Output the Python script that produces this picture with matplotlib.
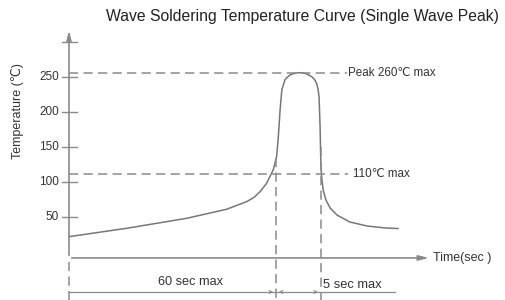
import matplotlib.pyplot as plt
import numpy as np

# reflow profile (time in sec, temperature in C)
time_s = [0, 16.7, 34.1, 45.7, 51.5, 53.6, 55.4, 57.3, 59.2, 60.2, 60.7, 61.2, 61.7,
          62.6, 63.2, 64.1, 65.2, 66.5, 67.4, 68.4, 69.4, 70.4, 71.2, 71.8, 72.2, 72.5,
          72.8, 73.0, 73.2, 73.7, 74.5, 75.7, 77.7, 81.4, 86.4, 91.6, 95.4]
temp_c = [22.5, 34.4, 48.6, 61.5, 72.3, 78.2, 86.5, 98.4, 117.4, 136.3, 164.7, 202.7, 231.1,
          245.4, 248.9, 252.5, 254.6, 255.8, 255.6, 254.9, 252.8, 250, 246.1, 240.7, 232.6, 221.6,
          179, 131.6, 110, 88.9, 74.7, 63.3, 53.3, 43.4, 37.7, 34.9, 34.1]

y_ticks = [50, 100, 150, 200, 250, 300]
y_labels = ['50', '100', '150', '200', '250', '']
peak_temp = 255.5
limit_temp = 111.7
preheat_end = 60
wave_end = 73

GRAY = '#8a8a8a'
TXT = '#333333'
plt.rcParams['font.family'] = ['Liberation Sans', 'DejaVu Sans']

fig = plt.figure(figsize=(5.06, 3.0), dpi=100)
ax = fig.add_axes([0, 0, 1, 1])
ax.set_xlim(-20, 126.7)
ax.set_ylim(-67.6, 359.2)
ax.axis('off')

x_axis_y = -7.8
dash = (0, (6, 3.5))

# axes with arrows
ax.annotate('', xy=(0, 320), xytext=(0, x_axis_y),
            arrowprops=dict(arrowstyle='-|>,head_width=0.15,head_length=0.6',
                            color=GRAY, lw=1.2, mutation_scale=10))
ax.annotate('', xy=(105.2, x_axis_y), xytext=(0, x_axis_y),
            arrowprops=dict(arrowstyle='-|>,head_width=0.15,head_length=0.6',
                            color=GRAY, lw=1.2, mutation_scale=10))
ax.text(105.6, x_axis_y, 'Time(sec )', fontsize=9, color=TXT, va='center', ha='left')

for v, lab in zip(y_ticks, y_labels):
    ax.plot([-1.9, 2.3], [v, v], color=GRAY, lw=1)
    ax.text(-2.9, v, lab, fontsize=8.5, color=TXT, ha='right', va='center')
ax.text(-14.8, 201, 'Temperature (℃)', fontsize=9, color=TXT, rotation=90,
        ha='center', va='center')

# profile curve
ax.plot(time_s, temp_c, color='#777777', lw=1.1, solid_joinstyle='round')

# limit lines
ax.plot([0, 80.5], [peak_temp, peak_temp], color=GRAY, lw=1.1, linestyle=dash)
ax.text(81, peak_temp, 'Peak 260℃ max', fontsize=8.4, color=TXT, va='center', ha='left')
ax.plot([0, 80.8], [limit_temp, limit_temp], color=GRAY, lw=1.1, linestyle=dash)
ax.text(82.3, limit_temp, '110℃ max', fontsize=8.4, color=TXT, va='center', ha='left')

# vertical markers
for t, top in [(0, -13.5), (preheat_end, 135), (wave_end, 150)]:
    ax.plot([t, t], [top, -67.6], color=GRAY, lw=1.1, linestyle=dash)

# dimension line
dim_y = -56.2
ax.plot([0, 94.5], [dim_y, dim_y], color=GRAY, lw=0.9)
for x0, x1 in [(57.5, preheat_end), (62.5, preheat_end), (70.5, wave_end)]:
    ax.annotate('', xy=(x1, dim_y), xytext=(x0, dim_y),
                arrowprops=dict(arrowstyle='->', color=GRAY, lw=0.8, mutation_scale=5))
ax.text(35.1, -41.5, '60 sec max', fontsize=9.2, color=TXT, ha='center', va='center')
ax.text(73.6, -46.2, '5 sec max', fontsize=9.3, color=TXT, ha='left', va='center')

fig.text(106 / 506, 1 - 17 / 300, 'Wave Soldering Temperature Curve (Single Wave Peak)',
         fontsize=11.35, color='#222222', ha='left', va='center')

fig.savefig('out.png', dpi=100)
